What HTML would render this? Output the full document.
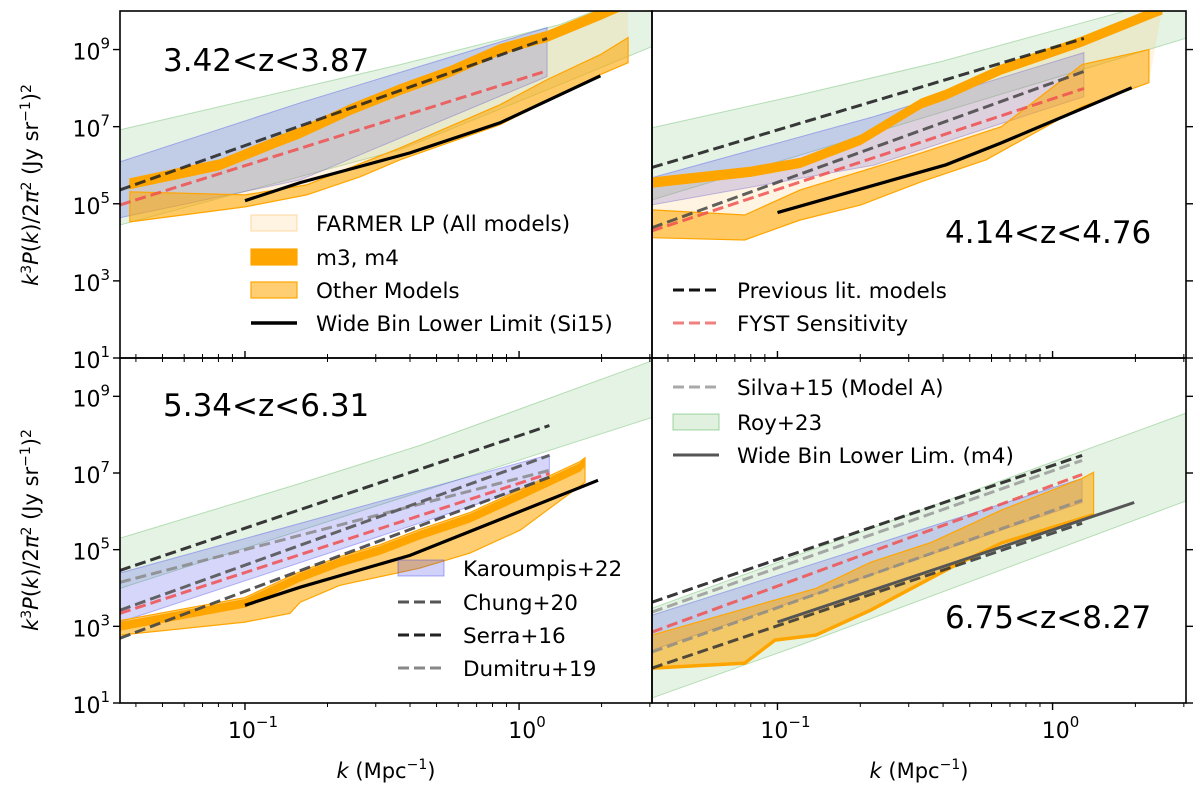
<!DOCTYPE html>
<html><head><meta charset="utf-8">
<style>
html,body{margin:0;padding:0;background:#fff;}
svg{display:block;font-family:"DejaVu Sans","Liberation Sans",sans-serif;}
</style></head>
<body>
<svg id="fig" width="1200" height="796" viewBox="0 0 1200 796" xmlns="http://www.w3.org/2000/svg">
<defs>
<clipPath id="c0"><rect x="120" y="11" width="532" height="347"/></clipPath>
<clipPath id="c1"><rect x="652" y="11" width="534" height="347"/></clipPath>
<clipPath id="c2"><rect x="120" y="358" width="532" height="345"/></clipPath>
<clipPath id="c3"><rect x="652" y="358" width="534" height="345"/></clipPath>
</defs>
<g id="marks"></g>
<g id="axes"></g>
</svg>
<script>
// ---------- Panel 1 (3.42<z<3.87) ----------
const p1RoyK=[0.035,0.368,1.41,3.06];
const p1RoyHi=[6.92,8.61,9.65,10.6];
const p1RoyLo=[4.45,6.40,8.09,9.08];
const p1BlueK=[0.035,0.159,1.265];
const p1BlueHi=[6.09,7.62,9.57];
const p1BlueLo=[4.64,5.62,8.30];
const p1M34K=[0.038,0.081,0.131,0.159,0.242,0.368,0.56,0.853,1.265,1.98,2.5];
const p1M34=[5.52,6.01,6.61,6.84,7.44,7.96,8.43,9.0,9.34,9.91,10.22];
const p1OthHiK=[0.038,0.1,0.168,0.368,0.853,1.265,1.98,2.5];
const p1OthHi=[5.31,5.23,5.49,6.45,7.57,8.22,8.87,9.31];
const p1OthLoK=[0.038,0.1,0.168,0.263,0.368,0.853,1.98,2.5];
const p1OthLo=[4.53,4.92,5.23,5.70,6.14,7.05,8.35,8.66];
const p1WideK=[0.1,0.159,0.40,0.853,1.98];
const p1Wide=[5.08,5.55,6.32,7.10,8.32];
const p1DashK=[0.035,1.265];
const p1Prev=[5.36,9.29];
const p1Fyst=[4.97,8.45];
// ---------- Panel 2 (4.14<z<4.76) ----------
const p2RoyHiK=[0.035,0.121,0.394,1.71,3.11];
const p2RoyHi=[6.97,7.83,8.69,9.94,10.4];
const p2RoyLoK=[0.035,3.11];
const p2RoyLo=[5.10,9.31];
const p2BlueK=[0.035,0.224,1.30];
const p2BlueHi=[5.68,7.26,8.92];
const p2BlueLo=[4.97,6.0,7.78];
const p2M34K=[0.035,0.080,0.121,0.201,0.333,0.41,0.651,1.28,2.30,2.5];
const p2M34=[5.55,5.83,6.06,6.66,7.60,7.83,8.48,9.21,9.94,10.04];
const p2OthHiK=[0.035,0.076,0.121,0.333,0.651,1.28,2.24];
const p2OthHi=[4.84,4.71,5.36,6.32,7.0,8.61,9.0];
const p2OthLoK=[0.035,0.076,0.121,0.201,0.333,0.574,1.28,2.24];
const p2OthLo=[4.12,4.06,4.58,4.97,5.57,6.14,7.52,8.14];
const p2WideK=[0.1,0.41,0.651,1.94];
const p2Wide=[4.77,6.01,6.58,8.01];
const p2DashK=[0.035,1.30];
const p2Prev=[5.94,9.29];
const p2Gray=[4.38,8.43];
const p2Fyst=[4.30,7.99];
// ---------- Panel 3 (5.34<z<6.31) ----------
const p3RoyHiK=[0.035,0.159,0.435,3.06];
const p3RoyHi=[5.30,6.73,7.72,9.93];
const p3RoyLoK=[0.035,3.06];
const p3RoyLo=[3.99,8.45];
const p3DashK=[0.035,1.29];
const p3BlueHi=[4.39,7.48];
const p3BlueLo=[3.11,6.81];
const p3Serra=[4.46,8.24];
const p3Dumitru=[4.15,7.07];
const p3Chung=[3.42,7.46];
const p3Fyst=[3.34,6.99];
const p3Chung2=[2.69,6.89];
const p3M34K=[0.035,0.1,0.159,0.222,0.311,0.435,0.662,1.01,1.67,1.74];
const p3M34=[3.0,3.60,4.28,4.67,4.98,5.38,5.82,6.42,7.15,7.28];
const p3OthHi=[3.15,3.75,4.43,4.82,5.13,5.53,5.97,6.57,7.30,7.40];
const p3OthLoK=[0.035,0.1,0.146,0.159,0.222,0.435,0.662,1.01,1.74];
const p3OthLo=[2.77,3.11,3.34,3.63,4.07,4.52,4.91,5.51,6.76];
const p3WideK=[0.1,0.159,0.40,1.94];
const p3Wide=[3.55,4.02,4.85,6.81];
// ---------- Panel 4 (6.75<z<8.27) ----------
const p4RoyHiK=[0.035,3.11];
const p4RoyHi=[3.47,8.58];
const p4RoyLoK=[0.035,0.121,3.11];
const p4RoyLo=[1.13,2.51,6.29];
const p4DashK=[0.035,1.28];
const p4BlueHi=[3.29,6.86];
const p4BlueLo=[2.38,6.23];
const p4Serra=[3.63,7.46];
const p4Silva=[3.37,7.33];
const p4Fyst=[2.85,6.96];
const p4Chung=[2.33,6.29];
const p4Lower=[1.91,5.69];
const p4OthHiK=[0.035,0.138,0.218,0.362,0.651,1.28,1.41];
const p4OthHi=[2.77,3.99,4.67,5.19,6.03,6.86,7.02];
const p4OthLoK=[0.035,0.076,0.098,0.138,0.218,0.428,0.651,1.39,1.41];
const p4OthLo=[1.91,2.04,2.64,2.77,3.42,4.54,5.17,5.90,5.90];
const p4WideK=[0.1,1.98];
const p4Wide=[3.11,6.23];
// ---------- axis ticks ----------
const yTickExps=[1,3,5,7,9];
const xMajor=[0.1,1];
const xMajorLbl=["−1","0"];
const xMinor=[0.04,0.05,0.06,0.07,0.08,0.09,0.2,0.3,0.4,0.5,0.6,0.7,0.8,0.9,2,3];

const NS="http://www.w3.org/2000/svg";
const LOGMIN=-1.456, LOGMAX=0.485;
const panels=[
 {x0:120,x1:652,y0:11,y1:358,clip:"c0"},
 {x0:652,x1:1186,y0:11,y1:358,clip:"c1"},
 {x0:120,x1:652,y0:358,y1:703,clip:"c2"},
 {x0:652,x1:1186,y0:358,y1:703,clip:"c3"}];
function xs(p,k){return p.x0+(Math.log10(k)-LOGMIN)/(LOGMAX-LOGMIN)*(p.x1-p.x0);}
function ys(p,e){return p.y1-(e-1)/9*(p.y1-p.y0);}
const marks=document.getElementById('marks');
const axes=document.getElementById('axes');
function mk(tag,attrs,parent){const e=document.createElementNS(NS,tag);for(const a in attrs)e.setAttribute(a,attrs[a]);(parent||marks).appendChild(e);return e;}
const groups=panels.map((p,i)=>{const g=mk('g',{'clip-path':'url(#'+p.clip+')'});


return g;});
function pts(p,K,E){return K.map((k,i)=>xs(p,k).toFixed(1)+','+ys(p,E[i]).toFixed(1));}
function band(pi,name,KH,H,KL,L,fill,stroke,sw){
 const p=panels[pi];
 const d=pts(p,KH,H).concat(pts(p,KL,L).reverse());
 const e=mk('polygon',{points:d.join(' '),fill:fill,stroke:stroke||'none','stroke-width':sw||1},groups[pi]);
 
 
}
function thick(pi,name,K,E,half){
 const H=E.map(v=>v+half),L=E.map(v=>v-half);band(pi,name,K,H,K,L,'#ffa500','#ffa500',1);
}
function line(pi,name,K,E,color,w,dash,op){
 const p=panels[pi];
 const e=mk('polyline',{points:pts(p,K,E).join(' '),fill:'none',stroke:color,'stroke-width':w,'stroke-dasharray':dash||'none',opacity:op||1},groups[pi]);
 
 
}
const GREEN='rgba(44,160,44,0.13)',GEDGE='rgba(44,160,44,0.3)';
const BLUE='rgba(70,70,235,0.22)',BEDGE='rgba(60,60,235,0.35)';
const OTH='rgba(255,165,0,0.55)',FARM='rgba(255,190,90,0.18)';
const DASH='11,5';
// panel 1
band(0,'roy23-band',p1RoyK,p1RoyHi,p1RoyK,p1RoyLo,GREEN,GEDGE);
band(0,'karoumpis22-band',p1BlueK,p1BlueHi,p1BlueK,p1BlueLo,BLUE,BEDGE);
band(0,'farmer-lp-band',p1M34K,p1M34,p1OthLoK,p1OthLo,FARM,'none');
band(0,'other-models-band',p1OthHiK,p1OthHi,p1OthLoK,p1OthLo,OTH,'#ffa500',1.2);
thick(0,'m3-m4-band',p1M34K,p1M34,0.13);
line(0,'previous-lit-line',p1DashK,p1Prev,'#222',3,DASH,0.85);
line(0,'fyst-sensitivity-line',p1DashK,p1Fyst,'#f05050',3,DASH,0.85);
line(0,'wide-bin-lower-limit',p1WideK,p1Wide,'#000',3.2);
// panel 2
band(1,'roy23-band',p2RoyHiK,p2RoyHi,p2RoyLoK,p2RoyLo,GREEN,GEDGE);
band(1,'karoumpis22-band',p2BlueK,p2BlueHi,p2BlueK,p2BlueLo,BLUE,BEDGE);
band(1,'farmer-lp-band',p2M34K,p2M34,p2OthLoK,p2OthLo,FARM,'none');
band(1,'other-models-band',p2OthHiK,p2OthHi,p2OthLoK,p2OthLo,OTH,'#ffa500',1.2);
thick(1,'m3-m4-band',p2M34K,p2M34,0.12);
line(1,'previous-lit-line',p2DashK,p2Prev,'#222',3,DASH,0.9);
line(1,'chung20-line',p2DashK,p2Gray,'#444',3,DASH,0.85);
line(1,'fyst-sensitivity-line',p2DashK,p2Fyst,'#f05050',3,DASH,0.85);
line(1,'wide-bin-lower-limit',p2WideK,p2Wide,'#000',3.2);
// panel 3
band(2,'roy23-band',p3RoyHiK,p3RoyHi,p3RoyLoK,p3RoyLo,GREEN,GEDGE);
band(2,'karoumpis22-band',p3DashK,p3BlueHi,p3DashK,p3BlueLo,BLUE,BEDGE);
band(2,'other-models-band',p3M34K,p3OthHi,p3OthLoK,p3OthLo,OTH,'#ffa500',1.2);
thick(2,'m3-m4-band',p3M34K,p3M34,0.1);
line(2,'serra16-line',p3DashK,p3Serra,'#222',3,DASH,0.9);
line(2,'dumitru19-line',p3DashK,p3Dumitru,'#888',3,DASH,0.85);
line(2,'chung20-line',p3DashK,p3Chung,'#555',3,DASH,0.9);
line(2,'fyst-sensitivity-line',p3DashK,p3Fyst,'#f05050',3,DASH,0.85);
line(2,'chung20-lower-line',p3DashK,p3Chung2,'#444',3,DASH,0.9);
line(2,'wide-bin-lower-limit',p3WideK,p3Wide,'#000',3.2);
// panel 4
band(3,'roy23-band',p4RoyHiK,p4RoyHi,p4RoyLoK,p4RoyLo,GREEN,GEDGE);
band(3,'karoumpis22-band',p4DashK,p4BlueHi,p4DashK,p4BlueLo,BLUE,BEDGE);
band(3,'other-models-band',p4OthHiK,p4OthHi,p4OthLoK,p4OthLo,OTH,'#ffa500',1.2);
line(3,'m3-m4-band',p4OthLoK,p4OthLo,'#ffa500',3.5);
line(3,'serra16-line',p4DashK,p4Serra,'#222',3,DASH,0.9);
line(3,'silva15-line',p4DashK,p4Silva,'#999',3,DASH,0.85);
line(3,'fyst-sensitivity-line',p4DashK,p4Fyst,'#f05050',3,DASH,0.85);
line(3,'chung20-line',p4DashK,p4Chung,'#888',3,DASH,0.8);
line(3,'lower-lit-line',p4DashK,p4Lower,'#333',3,DASH,0.85);
line(3,'wide-bin-lower-lim-m4',p4WideK,p4Wide,'#555',3);

// ---------- axes ----------
function txt(x,y,s,attrs,name){const e=mk('text',Object.assign({x:x,y:y,'font-size':20,fill:'#000'},attrs||{}),axes);e.innerHTML=s;
 
 return e;}
panels.forEach((p,i)=>{
 const r=mk('rect',{x:p.x0,y:p.y0,width:p.x1-p.x0,height:p.y1-p.y0,fill:'none',stroke:'#000','stroke-width':1.6},axes);
 
 
 const left=(i%2===0), bottom=(i>=2);
 yTickExps.forEach(e=>{const y=ys(p,e);
  if(left){mk('line',{x1:p.x0-7,x2:p.x0,y1:y,y2:y,stroke:'#000','stroke-width':1.4},axes);
   txt(p.x0-10,y+10,'10<tspan dy="-11" font-size="15">'+e+'</tspan>',{'text-anchor':'end','font-size':22},'y-tick-label');}
  else mk('line',{x1:p.x1,x2:p.x1+7,y1:y,y2:y,stroke:'#000','stroke-width':1.4},axes);
 });
 const yb=p.y1, dir=bottom?1:-1;
 xMajor.forEach((k,j)=>{const x=xs(p,k);
  mk('line',{x1:x,x2:x,y1:yb,y2:yb+dir*7,stroke:'#000','stroke-width':1.4},axes);
  if(bottom)txt(x+8,yb+35,'10<tspan dy="-11" font-size="15">'+xMajorLbl[j]+'</tspan>',{'text-anchor':'middle','font-size':22},'x-tick-label');});
 xMinor.forEach(k=>{const x=xs(p,k);
  mk('line',{x1:x,x2:x,y1:yb,y2:yb+dir*4,stroke:'#000','stroke-width':1},axes);
  if(bottom) mk('line',{x1:x,x2:x,y1:p.y0,y2:p.y0+4,stroke:'#000','stroke-width':1},axes);});
 if(bottom){txt((p.x0+p.x1)/2,778,'<tspan font-style="italic">k</tspan> (Mpc<tspan dy="-9" font-size="14">−1</tspan><tspan dy="9">)</tspan>',{'text-anchor':'middle','font-size':21},'x-axis-title');}
});
const titles=[[163,71,'3.42&lt;z&lt;3.87'],[945,243,'4.14&lt;z&lt;4.76'],[163,416,'5.34&lt;z&lt;6.31'],[945,628,'6.75&lt;z&lt;8.27']];
titles.forEach(t=>txt(t[0],t[1],t[2],{'font-size':31},'panel-redshift-title'));
[185,530].forEach(cy=>{const e=txt(0,0,'<tspan font-style="italic">k</tspan><tspan dy="-7" font-size="14">3</tspan><tspan dy="7" font-style="italic">P</tspan>(<tspan font-style="italic">k</tspan>)/2<tspan font-style="italic">π</tspan><tspan dy="-7" font-size="14">2</tspan><tspan dy="7"> (Jy sr</tspan><tspan dy="-8" font-size="14">−1</tspan><tspan dy="8">)</tspan><tspan dy="-7" font-size="14">2</tspan>',{'text-anchor':'middle','font-size':21,transform:'translate(38,'+cy+') rotate(-90)'},'y-axis-title');});
// legends
function legPatch(x,y,fill,stroke,h){const e=mk('rect',{x:x,y:y-(h/2),width:46,height:h,fill:fill,stroke:stroke,'stroke-width':1.2},axes);
 
 }
function legLine(x,y,color,dash,w,op){const e=mk('line',{x1:x,x2:x+46,y1:y,y2:y,stroke:color,'stroke-width':w||3,'stroke-dasharray':dash||'none',opacity:op||1},axes);
 
 }
function legText(x,y,s){txt(x,y+8,s,{'font-size':21.5},'legend-entry');}
legPatch(251,223,'rgba(255,190,90,0.18)','rgba(255,180,80,0.4)',16);legText(316,223,'FARMER LP (All models)');
legPatch(251,257,'#ffa500','#ffa500',16);legText(316,257,'m3, m4');
legPatch(251,290,OTH,'#ffa500',16);legText(316,290,'Other Models');
legLine(251,323,'#000','',3.5);legText(316,323,'Wide Bin Lower Limit (Si15)');
legLine(673,290,'#111',DASH);legText(737,290,'Previous lit. models');
legLine(673,323,'#f06060',DASH,3,0.8);legText(737,323,'FYST Sensitivity');
legPatch(398,568,'rgba(70,70,235,0.25)',BEDGE,16);legText(463,568,'Karoumpis+22');
legLine(398,602,'#555',DASH);legText(463,602,'Chung+20');
legLine(398,635,'#222',DASH);legText(463,635,'Serra+16');
legLine(398,668,'#888',DASH);legText(463,668,'Dumitru+19');
legLine(673,387,'#aaa',DASH);legText(737,387,'Silva+15 (Model A)');
legPatch(673,422,'rgba(44,160,44,0.15)','rgba(44,160,44,0.35)',16);legText(737,422,'Roy+23');
legLine(673,455,'#555','',3);legText(737,455,'Wide Bin Lower Lim. (m4)');
</script>
</body></html>
